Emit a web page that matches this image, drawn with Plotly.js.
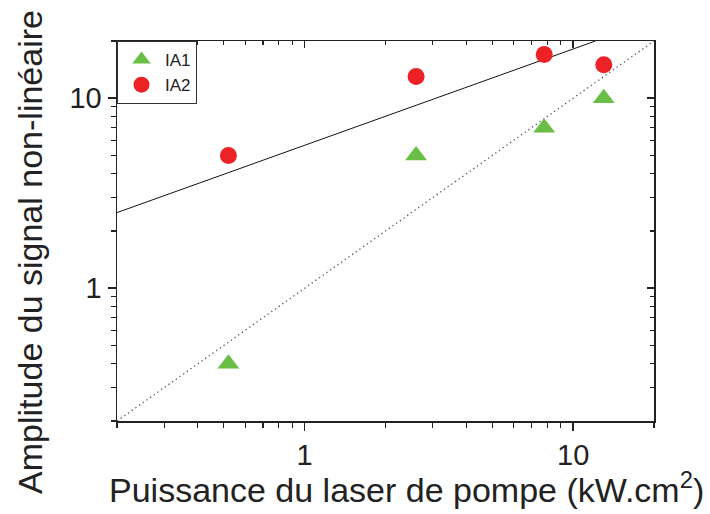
<!DOCTYPE html>
<html>
<head>
<meta charset="utf-8">
<script src="https://cdn.plot.ly/plotly-3.0.1.min.js"></script>
<style>html,body{margin:0;padding:0;background:#fff;}#chart{width:710px;height:514px;}</style>
</head>
<body>
<div id="chart"></div>
<script>
// Data
const puissance = [0.52, 2.6, 7.8, 13];
const ia1 = [0.4, 5, 7, 10];
const ia2 = [5, 13, 17, 15];
// Fitted line (solid) and reference line (dotted): endpoints in data units
const fitX = [0.2, 12.1];
const fitY = [2.5, 20];
const refX = [0.2, 20];
const refY = [0.2, 20];
const xRange = [0.2, 20];
const yRange = [0.2, 20];
const xTitle = "Puissance du laser de pompe (kW.cm<sup>2</sup>)";
const yTitle = "Amplitude du signal non-linéaire";

const FONT = "Liberation Sans, Arial, Helvetica, sans-serif";
const lg = v => v.map(Math.log10);

const traces = [
  {x: fitX, y: fitY, mode: 'lines', line: {color: '#111', width: 1}, showlegend: false, hoverinfo: 'skip'},
  {x: refX, y: refY, mode: 'lines', line: {color: '#555', width: 1.3, dash: '1.3px,3.2px'}, showlegend: false, hoverinfo: 'skip'},
  {x: puissance, y: ia1, name: 'IA1', mode: 'markers',
   marker: {symbol: 'triangle-up', size: 19, color: '#6abd45'}},
  {x: puissance, y: ia2, name: 'IA2', mode: 'markers',
   marker: {symbol: 'circle', size: 17, color: '#ec2227'}},
  {x: [0.2], y: [0.2], xaxis: 'x2', yaxis: 'y2', mode: 'markers', marker: {opacity: 0}, showlegend: false, hoverinfo: 'skip'}
];

const axBase = {
  type: 'log', showgrid: false, zeroline: false, showline: true,
  linecolor: '#222', linewidth: 1.5, tickcolor: '#222', tickwidth: 1.5,
  dtick: 1, tickfont: {family: FONT, size: 29, color: '#222'}
};

const layout = {
  width: 710, height: 514,
  margin: {l: 117, r: 56, t: 41, b: 93},
  paper_bgcolor: '#fff', plot_bgcolor: '#fff',
  font: {family: FONT, color: '#222'},
  xaxis: Object.assign({}, axBase, {
    range: lg(xRange), ticks: 'outside', ticklen: 8,
    minor: {ticks: 'outside', ticklen: 5, dtick: 'D1', tickcolor: '#222', tickwidth: 1.2}
  }),
  yaxis: Object.assign({}, axBase, {
    range: lg(yRange), ticks: 'outside', ticklen: 8,
    minor: {ticks: 'outside', ticklen: 5, dtick: 'D1', tickcolor: '#222', tickwidth: 1.2}
  }),
  xaxis2: Object.assign({}, axBase, {
    range: lg(xRange), overlaying: 'x', side: 'top', anchor: 'y2', ticks: 'inside', ticklen: 7,
    showticklabels: false,
    minor: {ticks: 'inside', ticklen: 4, dtick: 'D1', tickcolor: '#222', tickwidth: 1.2}
  }),
  yaxis2: Object.assign({}, axBase, {
    range: lg(yRange), overlaying: 'y', side: 'right', anchor: 'x2', ticks: 'inside', ticklen: 7,
    showticklabels: false,
    minor: {ticks: 'inside', ticklen: 4, dtick: 'D1', tickcolor: '#222', tickwidth: 1.2}
  }),
  legend: {
    x: 0, y: 1, xanchor: 'left', yanchor: 'top',
    bgcolor: '#fff', bordercolor: '#333', borderwidth: 1,
    font: {family: FONT, size: 17, color: '#222'},
    tracegroupgap: 0, itemwidth: 37
  },
  annotations: [
    {text: xTitle, xref: 'paper', yref: 'paper', x: -0.0186, y: -0.175,
     xanchor: 'left', yanchor: 'middle', showarrow: false,
     font: {family: FONT, size: 34, color: '#222'}},
    {text: yTitle, xref: 'paper', yref: 'paper', x: -0.162, y: 0.445,
     xanchor: 'center', yanchor: 'middle', showarrow: false, textangle: -90,
     font: {family: FONT, size: 34, color: '#222'}}
  ],
  showlegend: true
};

Plotly.newPlot('chart', traces, layout, {displayModeBar: false, staticPlot: true});
</script>
</body>
</html>
